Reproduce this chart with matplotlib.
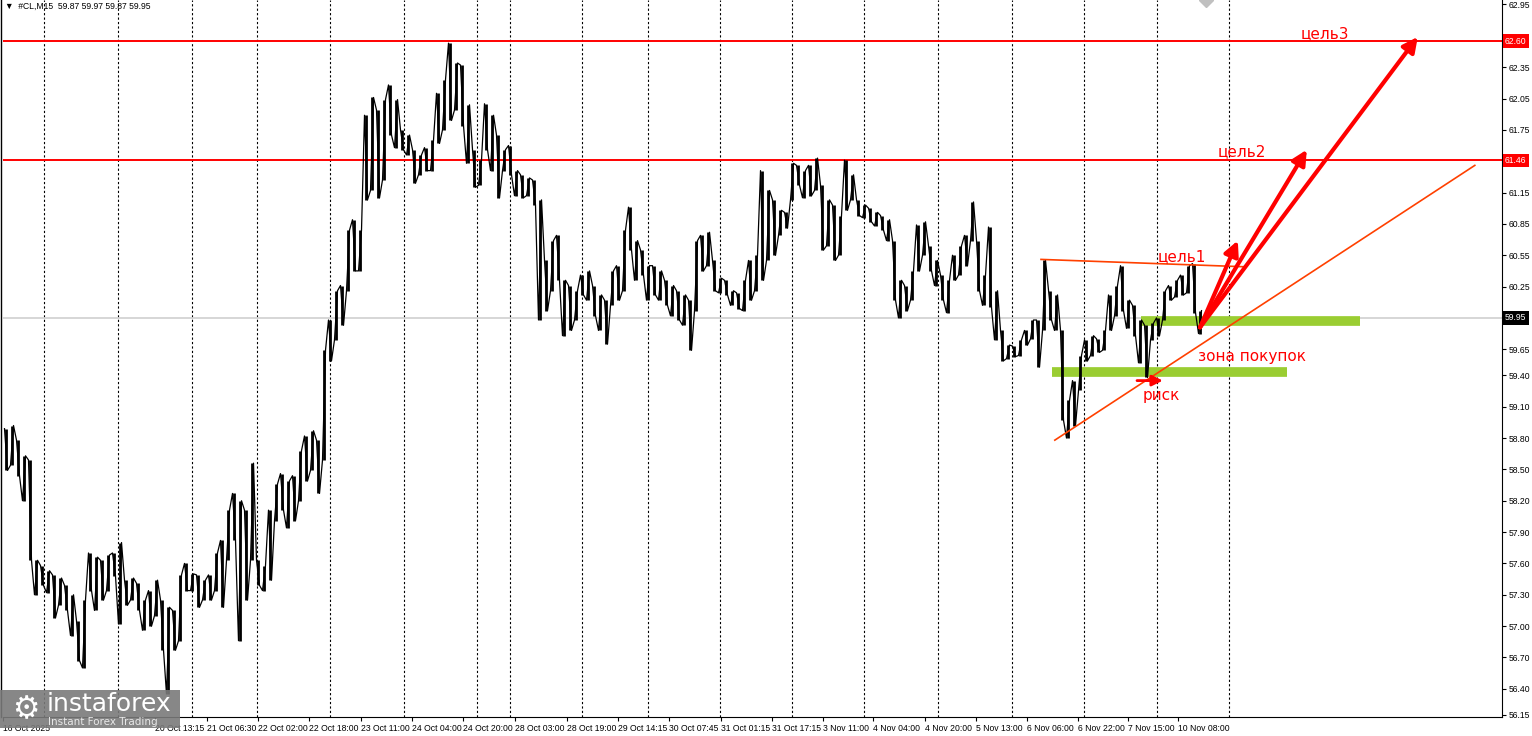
import numpy as np
import matplotlib
matplotlib.use('Agg')
import matplotlib.pyplot as plt
from matplotlib.patches import Rectangle

# price columns (one column ~ 8 bars of M15), high / low per column
col_hi = [58.89, 58.92, 58.78, 58.63, 58.59, 57.63, 57.58, 57.53, 57.49, 57.46,
          57.39, 57.30, 57.05, 57.25, 57.70, 57.66, 57.63, 57.68, 57.70, 57.80,
          57.44, 57.46, 57.41, 57.25, 57.34, 57.44, 57.25, 57.18, 57.15, 57.49,
          57.60, 57.50, 57.49, 57.44, 57.49, 57.70, 57.82, 58.11, 58.27, 58.20,
          58.11, 58.56, 57.63, 57.58, 58.11, 58.36, 58.46, 58.39, 58.44, 58.68,
          58.82, 58.87, 58.78, 59.64, 59.93, 60.21, 60.26, 60.79, 60.89, 60.79,
          61.89, 62.06, 61.94, 62.04, 62.18, 62.04, 61.75, 61.70, 61.56, 61.51,
          61.58, 61.65, 62.10, 62.23, 62.58, 62.39, 62.37, 61.99, 61.56, 61.46,
          62.00, 61.89, 61.70, 61.56, 61.60, 61.36, 61.32, 61.29, 61.27, 61.08,
          60.50, 60.69, 60.74, 60.31, 60.26, 60.21, 60.36, 60.40, 60.26, 60.17,
          60.12, 60.40, 60.45, 60.79, 61.01, 60.69, 60.60, 60.45, 60.45, 60.40,
          60.31, 60.26, 60.21, 60.17, 60.12, 60.69, 60.74, 60.77, 60.50, 60.33,
          60.31, 60.21, 60.19, 60.31, 60.50, 60.55, 61.36, 61.17, 61.08, 60.98,
          60.96, 61.43, 61.41, 61.36, 61.41, 61.48, 61.22, 61.08, 61.03, 60.93,
          61.46, 61.32, 61.08, 61.03, 61.00, 60.96, 60.93, 60.89, 60.69, 60.31,
          60.26, 60.40, 60.84, 60.87, 60.64, 60.50, 60.36, 60.31, 60.55, 60.64,
          60.74, 61.06, 60.69, 60.36, 60.82, 60.21, 59.83, 59.69, 59.68, 59.74,
          59.83, 59.93, 59.93, 60.50, 60.21, 60.17, 59.83, 59.16, 59.35, 59.59,
          59.74, 59.78, 59.75, 59.83, 60.17, 60.26, 60.45, 60.12, 60.07, 59.93,
          59.88, 59.90, 59.95, 60.21, 60.26, 60.31, 60.36, 60.45, 60.47, 60.02]
col_lo = [58.49, 58.54, 58.44, 58.20, 57.63, 57.30, 57.39, 57.32, 57.08, 57.20,
          57.15, 56.91, 56.67, 56.60, 57.34, 57.15, 57.25, 57.34, 57.48, 57.02,
          57.20, 57.25, 57.15, 56.96, 57.00, 57.10, 56.77, 56.35, 56.77, 56.86,
          57.34, 57.34, 57.18, 57.25, 57.25, 57.34, 57.18, 57.63, 57.82, 56.86,
          57.25, 57.63, 57.39, 57.34, 57.44, 58.01, 58.11, 57.94, 58.01, 58.20,
          58.39, 58.49, 58.27, 58.59, 59.54, 59.74, 59.88, 60.21, 60.40, 60.40,
          61.08, 61.17, 61.10, 61.27, 61.70, 61.58, 61.56, 61.51, 61.24, 61.32,
          61.36, 61.36, 61.62, 61.75, 61.84, 61.94, 61.79, 61.43, 61.20, 61.22,
          61.56, 61.36, 61.10, 61.36, 61.32, 61.12, 61.10, 61.12, 61.03, 59.93,
          60.02, 60.21, 60.31, 59.78, 59.83, 59.93, 60.17, 60.12, 59.97, 59.83,
          59.70, 60.07, 60.12, 60.21, 60.60, 60.31, 60.36, 60.12, 60.17, 60.12,
          60.07, 59.97, 59.93, 59.88, 59.64, 60.02, 60.40, 60.45, 60.21, 60.19,
          60.17, 60.07, 60.04, 60.02, 60.12, 60.21, 60.31, 60.50, 60.55, 60.74,
          60.81, 61.08, 61.22, 61.10, 61.12, 61.17, 60.60, 60.64, 60.50, 60.55,
          60.98, 61.08, 60.93, 60.91, 60.87, 60.83, 60.79, 60.69, 60.12, 59.95,
          60.02, 60.12, 60.40, 60.55, 60.40, 60.26, 60.12, 60.00, 60.31, 60.36,
          60.45, 60.69, 60.21, 60.07, 60.05, 59.74, 59.54, 59.56, 59.58, 59.59,
          59.69, 59.75, 59.48, 59.83, 59.93, 59.83, 58.97, 58.80, 58.92, 59.26,
          59.54, 59.59, 59.62, 59.64, 59.83, 59.97, 60.02, 59.85, 59.78, 59.52,
          59.38, 59.74, 59.78, 59.93, 60.12, 60.15, 60.17, 60.19, 60.00, 59.80]

y_ticks = [62.95, 62.35, 62.05, 61.75, 61.15, 60.85, 60.55, 60.25, 59.65, 59.40,
           59.10, 58.80, 58.50, 58.20, 57.90, 57.60, 57.30, 57.00, 56.70, 56.40, 56.15]
x_tick_pos = [-0.5, 24.8, 33.5, 42, 50.5, 59.2, 67.7, 76.2, 84.8, 93.5, 102,
              110.5, 119.2, 127.7, 136.2, 144.5, 153.2, 161.7, 170.2, 178.7, 187, 195.3]
x_tick_lbl = ['16 Oct 2025', '20 Oct 13:15', '21 Oct 06:30', '22 Oct 02:00', '22 Oct 18:00',
              '23 Oct 11:00', '24 Oct 04:00', '24 Oct 20:00', '28 Oct 03:00', '28 Oct 19:00',
              '29 Oct 14:15', '30 Oct 07:45', '31 Oct 01:15', '31 Oct 17:15', '3 Nov 11:00',
              '4 Nov 04:00', '4 Nov 20:00', '5 Nov 13:00', '6 Nov 06:00', '6 Nov 22:00',
              '7 Nov 15:00', '10 Nov 08:00']
day_sep = [6.3, 18.7, 31, 41.8, 54, 66.3, 78.5, 84, 96, 107, 119, 131, 143,
           155.3, 167.7, 179.7, 191.8, 203.8]

levels = [62.60, 61.46]
bid = 59.95
# drawn objects (bar position, price)
res_line = ([172.5, 206.2], [60.51, 60.44])
trend_line = ([174.8, 244.8], [58.78, 61.41])
zone_hi = ([189.2, 225.7], 59.92)
zone_lo = ([174.3, 213.5], 59.43)
risk_arrow = ([188.5, 192.8], 59.35)
arrow_from = (199, 59.86)
arrow_to = [(205.3, 60.69), (216.8, 61.56), (235.3, 62.64)]
labels = [('цель1', 196, 60.54), ('цель2', 206, 61.54), ('цель3', 219.8, 62.67),
          ('зона покупок', 207.7, 59.58), ('риск', 192.5, 59.21)]

W, H = 1532, 736
TICK_FONT = 'Liberation Sans'
fig = plt.figure(figsize=(W / 100, H / 100), dpi=100)
ax = fig.add_axes([3 / W, 19 / H, 1499 / W, 717 / H])
ax.set_xlim(-0.5, 249.33)
ax.set_ylim(56.13, 62.993)

# day separators
for xs in day_sep:
    ax.axvline(xs, color='black', lw=0.8, ls=(0, (2, 2)), zorder=1)

for lv in levels:
    ax.axhline(lv, color='#ff0000', lw=1.4, zorder=2)
ax.axhline(bid, color='#d0d0d0', lw=1.2, zorder=1)

# price scribble: high/low alternating
xs, ys = [], []
for i, (h, l) in enumerate(zip(col_hi, col_lo)):
    pair = (h, l) if i % 2 == 0 else (l, h)
    xs += [i - 0.25, i + 0.25]
    ys += list(pair)
ax.plot(xs, ys, color='black', lw=0.9, zorder=3)
ax.vlines(range(len(col_hi)), col_lo, col_hi, color='black', lw=2.0, zorder=3)

# drawings
ax.plot(*res_line, color='#ff4000', lw=1.2, zorder=4)
ax.plot(*trend_line, color='#ff4000', lw=1.2, zorder=4)
ax.plot(zone_hi[0], [zone_hi[1]] * 2, color='#9acd32', lw=7, solid_capstyle='butt', zorder=2)
ax.plot(zone_lo[0], [zone_lo[1]] * 2, color='#9acd32', lw=7, solid_capstyle='butt', zorder=2)
ax.annotate('', xy=(risk_arrow[0][1], risk_arrow[1]), xytext=(risk_arrow[0][0], risk_arrow[1]),
            arrowprops=dict(arrowstyle='-|>', color='#ff0000', lw=2, mutation_scale=16,
                            shrinkA=0, shrinkB=0), zorder=5)
for tx, ty in arrow_to:
    ax.annotate('', xy=(tx, ty), xytext=arrow_from,
                arrowprops=dict(arrowstyle='-|>', color='#ff0000', lw=3,
                                mutation_scale=22, shrinkA=0, shrinkB=0), zorder=5)
for txt, tx, ty in labels:
    ax.text(tx, ty, txt, color='#ff0000', fontsize=11, ha='center', va='center', zorder=6)

# small gray marker at top
ax.plot([200], [62.99], marker='D', color='#c0c0c0', ms=7, clip_on=True)

# axes styling
for s in ['top', 'left']:
    ax.spines[s].set_visible(False)
ax.spines['right'].set_color('black')
ax.spines['bottom'].set_color('black')
ax.yaxis.tick_right()
ax.set_yticks(y_ticks)
ax.set_yticklabels([f'{v:.2f}' for v in y_ticks], fontfamily=TICK_FONT)
ax.set_xticks(x_tick_pos)
ax.set_xticklabels(x_tick_lbl, ha='left', fontfamily=TICK_FONT)
ax.tick_params(axis='y', labelsize=6.2, length=3, pad=2)
ax.tick_params(axis='x', labelsize=6.2, length=3, pad=2)
fig.add_artist(plt.Line2D([1 / W, 1 / W], [19 / H, 1], color='black', lw=1))

# price boxes on the right scale
for val, fc in [(62.60, '#ff0000'), (61.46, '#ff0000'), (bid, 'black')]:
    ax.text(1.002, val, f'{val:.2f}', transform=ax.get_yaxis_transform(), color='white',
            fontsize=6.2, va='center', ha='left', family=TICK_FONT,
            bbox=dict(boxstyle='square,pad=0.25', fc=fc, ec='none'), zorder=10, clip_on=False)

# header
fig.text(5 / W, 1 - 6 / H, '▼  #CL,M15  59.87 59.97 59.87 59.95', fontsize=6.2,
         va='center', ha='left', family=[TICK_FONT, 'DejaVu Sans'])

# watermark
fig.add_artist(Rectangle((0, 1 - 728 / H), 180 / W, 38 / H, transform=fig.transFigure,
                         fc='#7a7a7a', ec='none', alpha=0.9, zorder=20))
fig.text(12 / W, 1 - 710 / H, '⚙', color='white', fontsize=22, va='center', ha='left', zorder=21)
fig.text(47 / W, 1 - 704 / H, 'instaforex', color='white', fontsize=18, va='center', ha='left', zorder=21)
fig.text(48 / W, 1 - 722 / H, 'Instant Forex Trading', color='#e8e8e8', fontsize=7.5,
         va='center', ha='left', zorder=21)

fig.savefig('out.png', dpi=100)
